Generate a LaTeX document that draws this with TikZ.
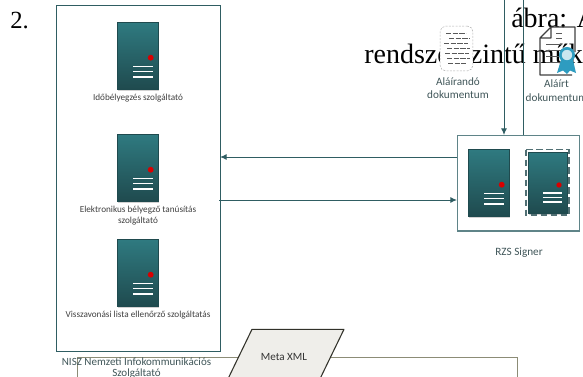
\documentclass[tikz,border=0pt]{standalone}
\usepackage{fontspec}
\setmainfont{Liberation Serif}
\newfontfamily\lab{Carlito}
\usetikzlibrary{arrows.meta,shadows}
\definecolor{frameC}{HTML}{2F5D62}
\definecolor{softC}{HTML}{5F8488}
\definecolor{topC}{HTML}{2F7A80}
\definecolor{botC}{HTML}{1F4A4E}
\definecolor{textC}{HTML}{3F5558}
\definecolor{bandC}{HTML}{2E9CC0}
\definecolor{oliveC}{HTML}{8C8C76}
\definecolor{paperC}{HTML}{EFEEEA}
\tikzset{x=0.75pt,y=-0.75pt,
 panel/.style={draw=frameC,line width=0.95pt,fill=white},
 serverbody/.style={draw=botC,line width=0.5pt,top color=topC,bottom color=botC,shade,drop shadow={shadow xshift=0.3pt,shadow yshift=-1pt,opacity=0.35}},
 tag/.style={font=\lab\fontsize{6.9}{8.25}\selectfont,text=black!75,align=center,inner sep=0pt},
 doclabel/.style={font=\lab\fontsize{8.4}{9.4}\selectfont,text=textC,align=center,inner sep=0pt},
 body/.style={font=\fontsize{21}{24}\selectfont,text=black,inner sep=0pt,anchor=base west},
 link/.style={draw=frameC,line width=0.75pt,-{Latex[length=5pt,width=4.5pt]}},
 plainlink/.style={draw=frameC,line width=0.75pt},
 led/.style={ball color=red!85!black,shading=ball}
}
\newcommand{\srv}[3]{% x y name
 \node[serverbody,minimum width=31pt,minimum height=50.5pt,inner sep=0pt,anchor=north west] (#3) at (#1,#2) {};
 \fill[red!85!black] (#1+33.7,#2+35.7) circle (2.2pt);
 \foreach \d in {44.7,49.7,55}{\draw[white,line width=0.9pt] (#1+16,#2+\d) -- (#1+36,#2+\d);}
}
\begin{document}
\begin{tikzpicture}
\useasboundingbox (0,0) rectangle (583,376);
\begin{scope}
\clip (0,0) rectangle (583,376);
\node[body,font=\fontsize{18.5}{22}\selectfont] (two) at (10,28) {2.};
\node[body] (abra) at (511,27) {ábra: A};
\node[body] (rendsz) at (364,63) {rendszerszintű működése};
% lower frame behind everything
\node[draw=oliveC,line width=0.7pt,fill=white,minimum width=330pt,minimum height=40pt,inner sep=0pt,anchor=north west] (core) at (77,357.3) {};
\node[panel,minimum width=123pt,minimum height=259.5pt,inner sep=0pt,anchor=north west] (nisz) at (55.7,4.5) {};
\srv{117}{22}{s1}
\srv{117}{134}{s2}
\srv{117}{239}{s3}
\node[tag] (t1) at (138,98) {Időbélyegzés szolgáltató};
\node[tag] (t2) at (138,215.5) {Elektronikus bélyegző tanúsítás\\szolgáltató};
\node[tag] (t3) at (138,315) {Visszavonási lista ellenőrző szolgáltatás};
\node[panel,draw=softC,line width=1pt,minimum width=91.5pt,minimum height=71.5pt,inner sep=0pt,anchor=north west] (rzs) at (457,135) {};
\srv{468}{149}{s4}
\node[serverbody,minimum width=29pt,minimum height=46pt,inner sep=0pt,anchor=north west] (s5) at (528,152) {};
\fill[red!85!black] (559,185) circle (2pt);
\foreach \d in {193,197.5,202}{\draw[white,line width=0.85pt] (543,\d) -- (562,\d);}
\draw[softC!85!black,line width=1.3pt,dash pattern=on 5pt off 2.5pt] (526,149.5) rectangle (569,215);
\node[doclabel] (rl) at (519,253) {RZS Signer};
\coordinate (a1) at (504,0); \coordinate (a2) at (504,135);
\coordinate (b1) at (523,0); \coordinate (b2) at (523,135);
\draw[link] (a1) -- (a2);
\draw[plainlink] (b1) -- (b2);
\coordinate (c1) at (457,157); \coordinate (c2) at (220,157);
\coordinate (d1) at (219,200); \coordinate (d2) at (457,200);
\draw[link] (c1) -- (c2);
\draw[link] (d1) -- (d2);
% unsigned document
\node[fill=white,rounded corners=4pt,draw=gray!60,dash pattern=on 1.5pt off 1pt,minimum width=24.5pt,minimum height=33.5pt,inner sep=0pt] (doc1) at (456.5,48.5) {};
\foreach \y/\a/\b in {33/446/466,38/449/470,43/444/468,48/447/470,53/445/469,58/447/470,63/448/466}{
 \draw[black!65,line width=0.7pt,dash pattern=on 4pt off 1pt] (\a,\y) -- (\b,\y);}
\node[doclabel] (dl1) at (458,88) {Aláírandó\\dokumentum};
% signed document
\draw[black!75,line width=0.9pt,line join=round] (551,27) -- (575,27) -- (575,52) (572,75) -- (540,75) -- (540,38) -- (551,27) -- (551,38) -- (540,38);
\foreach \y/\a in {33/556,38/556,44/546,50/546,56/546,62/546}{\draw[black!65,line width=0.7pt] (\a,\y) -- (562,\y);}
\fill[bandC] (561,60) -- (557,73) -- (563,70.5) -- (567,74) -- (570,70.5) -- (576,73) -- (573,60) -- cycle;
\node[circle,draw=bandC,line width=2pt,fill=bandC!25,minimum size=10pt,inner sep=0pt] (seal) at (567,55) {};
\node[doclabel,font=\lab\fontsize{8.4}{10.8}\selectfont] (dl2) at (556.5,90.5) {Aláírt\\dokumentum};
% meta xml
\draw[draw=black!65!oliveC,fill=paperC,line width=0.8pt,line join=round] (252,329.3) -- (344,329.3) -- (317,385) -- (225,385) -- cycle;
\node[inner sep=0pt,font=\lab\fontsize{8.3}{10}\selectfont,text=black!80] (mx) at (284,356.5) {Meta XML};
\node[tag,font=\lab\fontsize{8.27}{8.8}\selectfont,text=textC] (nl) at (136.5,368) {NISZ Nemzeti Infokommunikációs\\Szolgáltató};
\end{scope}
\end{tikzpicture}
\end{document}
